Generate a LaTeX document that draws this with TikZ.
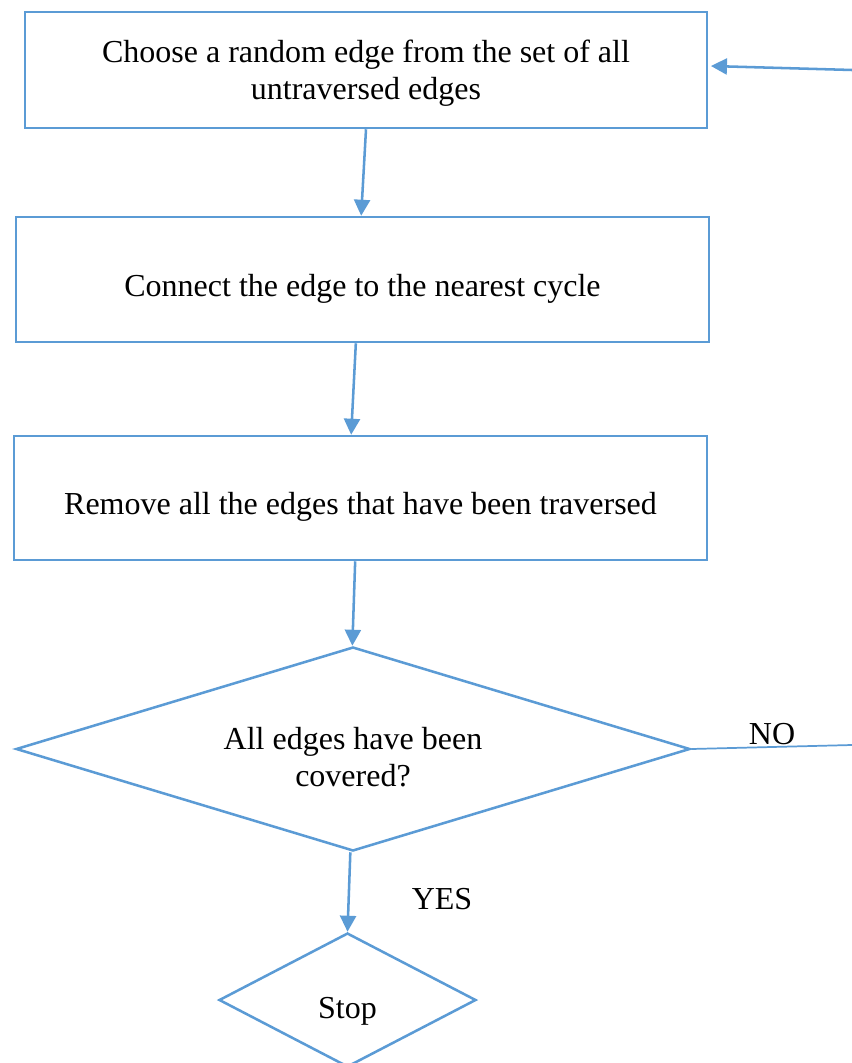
\documentclass[tikz,border=0pt]{standalone}
\usepackage{fontspec}
\setmainfont{Liberation Serif}
\usetikzlibrary{shapes.geometric,arrows.meta}
\definecolor{flowblue}{HTML}{5B9BD5}
\begin{document}
\begin{tikzpicture}[x=0.75pt,y=-0.75pt,
  every node/.style={font=\fontsize{24}{27.7}\selectfont},
  stepbox/.style={draw=flowblue,line width=1.9pt,align=center,inner sep=0pt},
  decision/.style={draw=flowblue,line width=1.9pt,diamond,align=center,inner sep=0pt},
  flow/.style={draw=flowblue,line width=1.9pt,-{Triangle[length=12pt,width=12pt]}},
  plain/.style={draw=flowblue,line width=1.3pt}]
  \useasboundingbox (0,0) rectangle (852,1063);
  \clip (0,0) rectangle (852,1063);
  % process steps
  \node[stepbox,minimum width=682*0.75pt,minimum height=116*0.75pt,text depth=0pt] (b1) at (366,70)
    {Choose a random edge from the set of all\\untraversed edges};
  \node[stepbox,minimum width=693*0.75pt,minimum height=125*0.75pt,text height=25pt,text depth=0pt] (b2) at (362.5,279.5)
    {Connect the edge to the nearest cycle};
  \node[stepbox,minimum width=693*0.75pt,minimum height=124*0.75pt,text height=25pt,text depth=0pt] (b3) at (360.5,498)
    {Remove all the edges that have been traversed};
  % decisions
  \node[decision,aspect=3.3,minimum width=674*0.75pt,minimum height=204*0.75pt,text height=56pt,text depth=0pt] (d1) at (353,749)
    {All edges have been\\covered?};
  \node[decision,aspect=1.9,minimum width=257*0.75pt,minimum height=134*0.75pt,text height=28pt,text depth=0pt] (stop) at (347.5,1000)
    {Stop};
  % loop-back ends at the right margin
  \coordinate (noEnd) at (852,745);
  \coordinate (backStart) at (852,70);
  % connectors
  \draw[flow] (b1.south) -- ([xshift=-1pt]b2.north);
  \draw[flow] ([xshift=-5pt]b2.south) -- ([xshift=-7pt]b3.north);
  \draw[flow] ([xshift=-4pt]b3.south) -- ([xshift=-0.5pt]d1.north);
  \draw[flow] ([xshift=-2pt]d1.south) -- (stop.north);
  \draw[plain] (d1.east) -- (noEnd);
  \draw[flow] (backStart) -- ([xshift=2pt,yshift=3pt]b1.east);
  % branch labels
  \node (no) at (772,734) {NO};
  \node (yes) at (442,899) {YES};
\end{tikzpicture}
\end{document}
